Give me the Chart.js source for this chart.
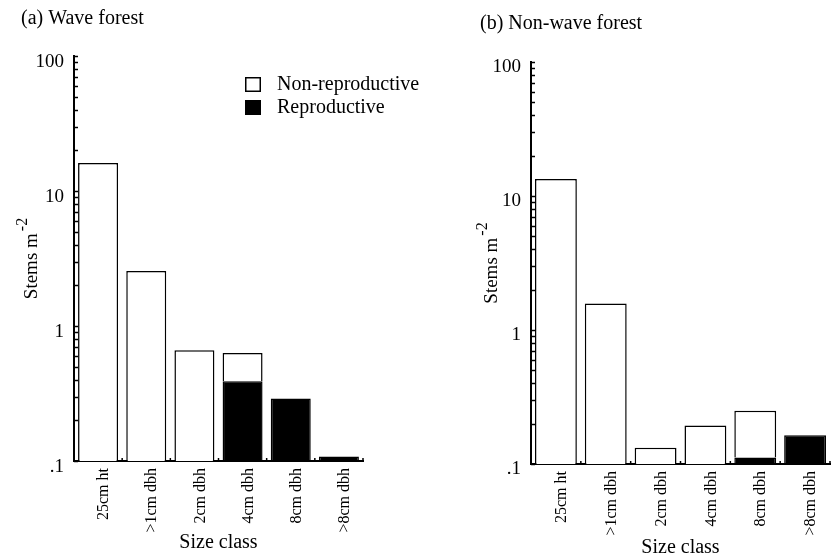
<!DOCTYPE html>
<html>
<head>
<meta charset="utf-8">
<script src="https://cdn.jsdelivr.net/npm/chart.js@4/dist/chart.umd.min.js"></script>
<style>
  html, body { margin: 0; padding: 0; background: #fff; overflow: hidden; }
  #wrap { position: relative; width: 840px; height: 556px; }
  canvas { position: absolute; top: 0; }
</style>
</head>
<body>
<div id="wrap">
  <canvas id="wave" width="420" height="556" style="left:0"></canvas>
  <canvas id="nonwave" width="420" height="556" style="left:420px"></canvas>
</div>
<script>
const sizeClasses = ['25cm ht', '>1cm dbh', '2cm dbh', '4cm dbh', '8cm dbh', '>8cm dbh'];

// stems per m2 (null = no bar part)
const waveNonRepro = [16.1, 2.55, 0.66, 0.24, null, null];
const waveRepro = [null, null, null, 0.39, 0.29, 0.108];
const nonWaveNonRepro = [13.4, 1.58, 0.132, 0.194, 0.138, null];
const nonWaveRepro = [null, null, null, null, 0.112, 0.164];

const yTickValues = [0.1, 1, 10, 100];
const yTickLabels = ['.1', '1', '10', '100'];

Chart.defaults.font.family = "'Liberation Serif', 'Times New Roman', serif";
Chart.defaults.color = '#000';

// every 1..9 step inside each decade, for the little inward tick marks
const minorTicks = [];
yTickValues.slice(0, -1).forEach(d => {
  for (let m = 1; m < 10; m++) minorTicks.push(+(m * d).toFixed(6));
});
minorTicks.push(yTickValues[yTickValues.length - 1]);

const decor = {
  id: 'decor',
  afterDraw(chart, args, opts) {
    const { ctx, chartArea: a, scales: { x, y } } = chart;
    ctx.save();
    ctx.strokeStyle = '#000';
    ctx.lineWidth = 1.5;

    // y ticks pointing into the plot
    y.ticks.forEach(t => {
      const py = Math.round(y.getPixelForValue(t.value)) + 0.5;
      ctx.beginPath();
      ctx.moveTo(a.left, py);
      ctx.lineTo(a.left + 4, py);
      ctx.stroke();
    });

    // x ticks at category edges, pointing up
    const step = x.getPixelForValue(1) - x.getPixelForValue(0);
    sizeClasses.forEach((c, i) => {
      const px = x.getPixelForValue(i) + step / 2;
      ctx.beginPath();
      ctx.moveTo(px, a.bottom);
      ctx.lineTo(px, a.bottom - 3);
      ctx.stroke();
    });

    // y title with superscript
    ctx.fillStyle = '#000';
    ctx.textBaseline = 'middle';
    ctx.textAlign = 'left';
    ctx.font = "19px 'Liberation Serif'";
    const main = 'Stems m';
    const w1 = ctx.measureText(main).width;
    ctx.font = "16px 'Liberation Serif'";
    const w2 = ctx.measureText('-2').width;
    ctx.translate(a.left + opts.titleX, (a.top + a.bottom) / 2);
    ctx.rotate(-Math.PI / 2);
    const sx = -(w1 + w2 + 2) / 2;
    ctx.font = "19px 'Liberation Serif'";
    ctx.fillText(main, sx, 0);
    ctx.font = "16px 'Liberation Serif'";
    ctx.fillText('-2', sx + w1 + 2, -9);
    ctx.setTransform(1, 0, 0, 1, 0, 0);

    // legend
    if (opts.legend) {
      const lx = a.left + opts.legend.x;
      let ly = a.top + opts.legend.y;
      const items = chart.data.datasets.slice().reverse();
      ctx.font = "20px 'Liberation Serif'";
      items.forEach(ds => {
        ctx.fillStyle = ds.backgroundColor;
        ctx.fillRect(lx, ly, 16, 15);
        ctx.strokeRect(lx + 0.75, ly + 0.75, 14.5, 13.5);
        ctx.fillStyle = '#000';
        ctx.fillText(ds.label, lx + 32, ly + 8);
        ly += 23;
      });
    }
    ctx.restore();
  }
};

function drawPanel(id, title, nonRepro, repro, box) {
  return new Chart(document.getElementById(id), {
    type: 'bar',
    data: {
      labels: sizeClasses,
      datasets: [
        { label: 'Reproductive', data: repro, backgroundColor: '#000', borderColor: '#000', borderWidth: 1.5 },
        { label: 'Non-reproductive', data: nonRepro, backgroundColor: '#fff', borderColor: '#000', borderWidth: 1.5 }
      ]
    },
    options: {
      responsive: false,
      animation: false,
      layout: { padding: { left: box.padLeft, right: box.padRight, top: 0, bottom: 0 } },
      datasets: { bar: { categoryPercentage: 1, barPercentage: box.barPct } },
      plugins: {
        legend: { display: false },
        tooltip: { enabled: false },
        title: {
          display: true,
          text: title,
          align: 'start',
          font: { size: 20, weight: 'normal' },
          color: '#000',
          padding: { top: box.titleTop, bottom: box.titleBottom }
        },
        decor: { titleX: box.yTitleX, legend: box.legend }
      },
      scales: {
        x: {
          stacked: true,
          grid: { display: false, drawTicks: false },
          border: { color: '#000', width: 2 },
          ticks: {
            minRotation: 90, maxRotation: 90, autoSkip: false,
            padding: 7, labelOffset: 6,
            font: { size: 16, lineHeight: 1 }
          },
          title: {
            display: true, text: 'Size class',
            font: { size: 20 },
            padding: { top: 0, bottom: box.xTitlePad }
          },
          afterFit: s => { s.height = box.xHeight; }
        },
        y: {
          type: 'logarithmic',
          stacked: true,
          min: yTickValues[0],
          max: yTickValues[yTickValues.length - 1],
          grid: { display: false, drawTicks: false },
          border: { color: '#000', width: 2 },
          afterBuildTicks: s => { s.ticks = minorTicks.map(v => ({ value: v })); },
          ticks: {
            autoSkip: false,
            padding: 10,
            labelOffset: box.yLabelOffset,
            font: { size: 19 },
            callback: v => {
              const i = yTickValues.findIndex(t => Math.abs(t - v) < 1e-9);
              return i < 0 ? '' : yTickLabels[i];
            }
          },
          afterFit: s => { s.width = box.yWidth; }
        }
      }
    },
    plugins: [decor]
  });
}

drawPanel('wave', '(a) Wave forest', waveNonRepro, waveRepro, {
  padLeft: 21, padRight: 57, yWidth: 53, xHeight: 95,
  titleTop: 7, titleBottom: 25, barPct: 0.83,
  xTitlePad: 1, yLabelOffset: 6, yTitleX: -42,
  legend: { x: 171, y: 21 }
});

drawPanel('nonwave', '(b) Non-wave forest', nonWaveNonRepro, nonWaveRepro, {
  padLeft: 60, padRight: 10, yWidth: 51, xHeight: 92,
  titleTop: 12, titleBottom: 26, barPct: 0.84,
  xTitlePad: -4, yLabelOffset: 5, yTitleX: -39,
  legend: null
});
</script>
</body>
</html>
